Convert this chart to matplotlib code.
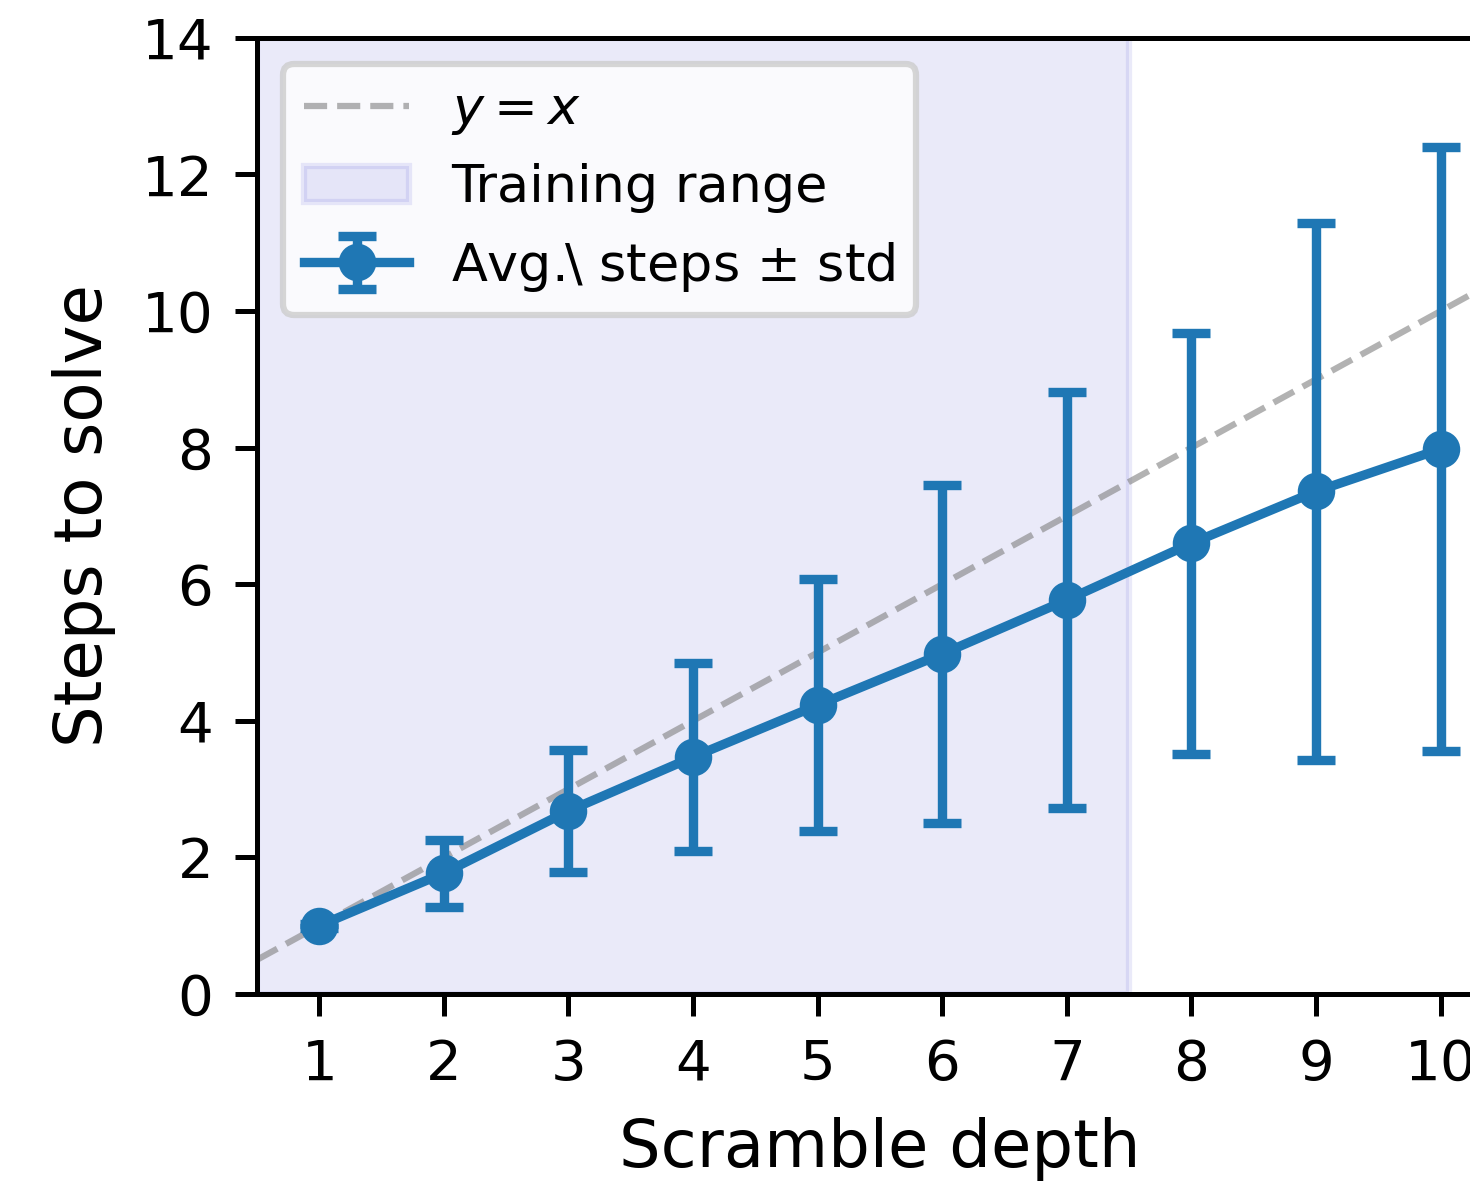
import numpy as np
import matplotlib
matplotlib.use('Agg')
import matplotlib.pyplot as plt

# scramble depth vs. average number of solver steps
depth = [1, 2, 3, 4, 5, 6, 7, 8, 9, 10]
avg_steps = [1.0, 1.77, 2.68, 3.47, 4.23, 4.98, 5.77, 6.60, 7.36, 7.98]
std_steps = [0.03, 0.49, 0.89, 1.38, 1.84, 2.47, 3.04, 3.08, 3.93, 4.42]
train_lo, train_hi = 0.5, 7.5

DPI = 450
fig = plt.figure(figsize=(1470 / DPI, 1185 / DPI), dpi=DPI)
ax = fig.add_axes([0.1748, 0.1612, 0.8476, 0.8068])

xs = np.array([0.5, 10.5])
ax.plot(xs, xs, '--', color='gray', alpha=0.6, lw=1, label='$y=x$')
ax.axvspan(train_lo, train_hi, color=(0.2, 0.2, 0.8), alpha=0.1, label='Training range')
ax.errorbar(depth, avg_steps, yerr=std_steps, fmt='o-', color='#1f77b4',
            lw=1.5, ms=5, capsize=3, capthick=1.5,
            label='Avg.\\ steps $\\pm$ std')

ax.set_xlim(0.5, 10.5)
ax.set_ylim(0, 14)
ax.set_xticks(depth)
ax.set_yticks(range(0, 15, 2))
ax.tick_params(labelsize=9.0)
ax.set_xlabel('Scramble depth', fontsize=10.5)
ax.set_ylabel('Steps to solve', fontsize=10.5)
ax.legend(loc='upper left', fontsize=8.4)

fig.savefig('out.png', dpi=DPI)
